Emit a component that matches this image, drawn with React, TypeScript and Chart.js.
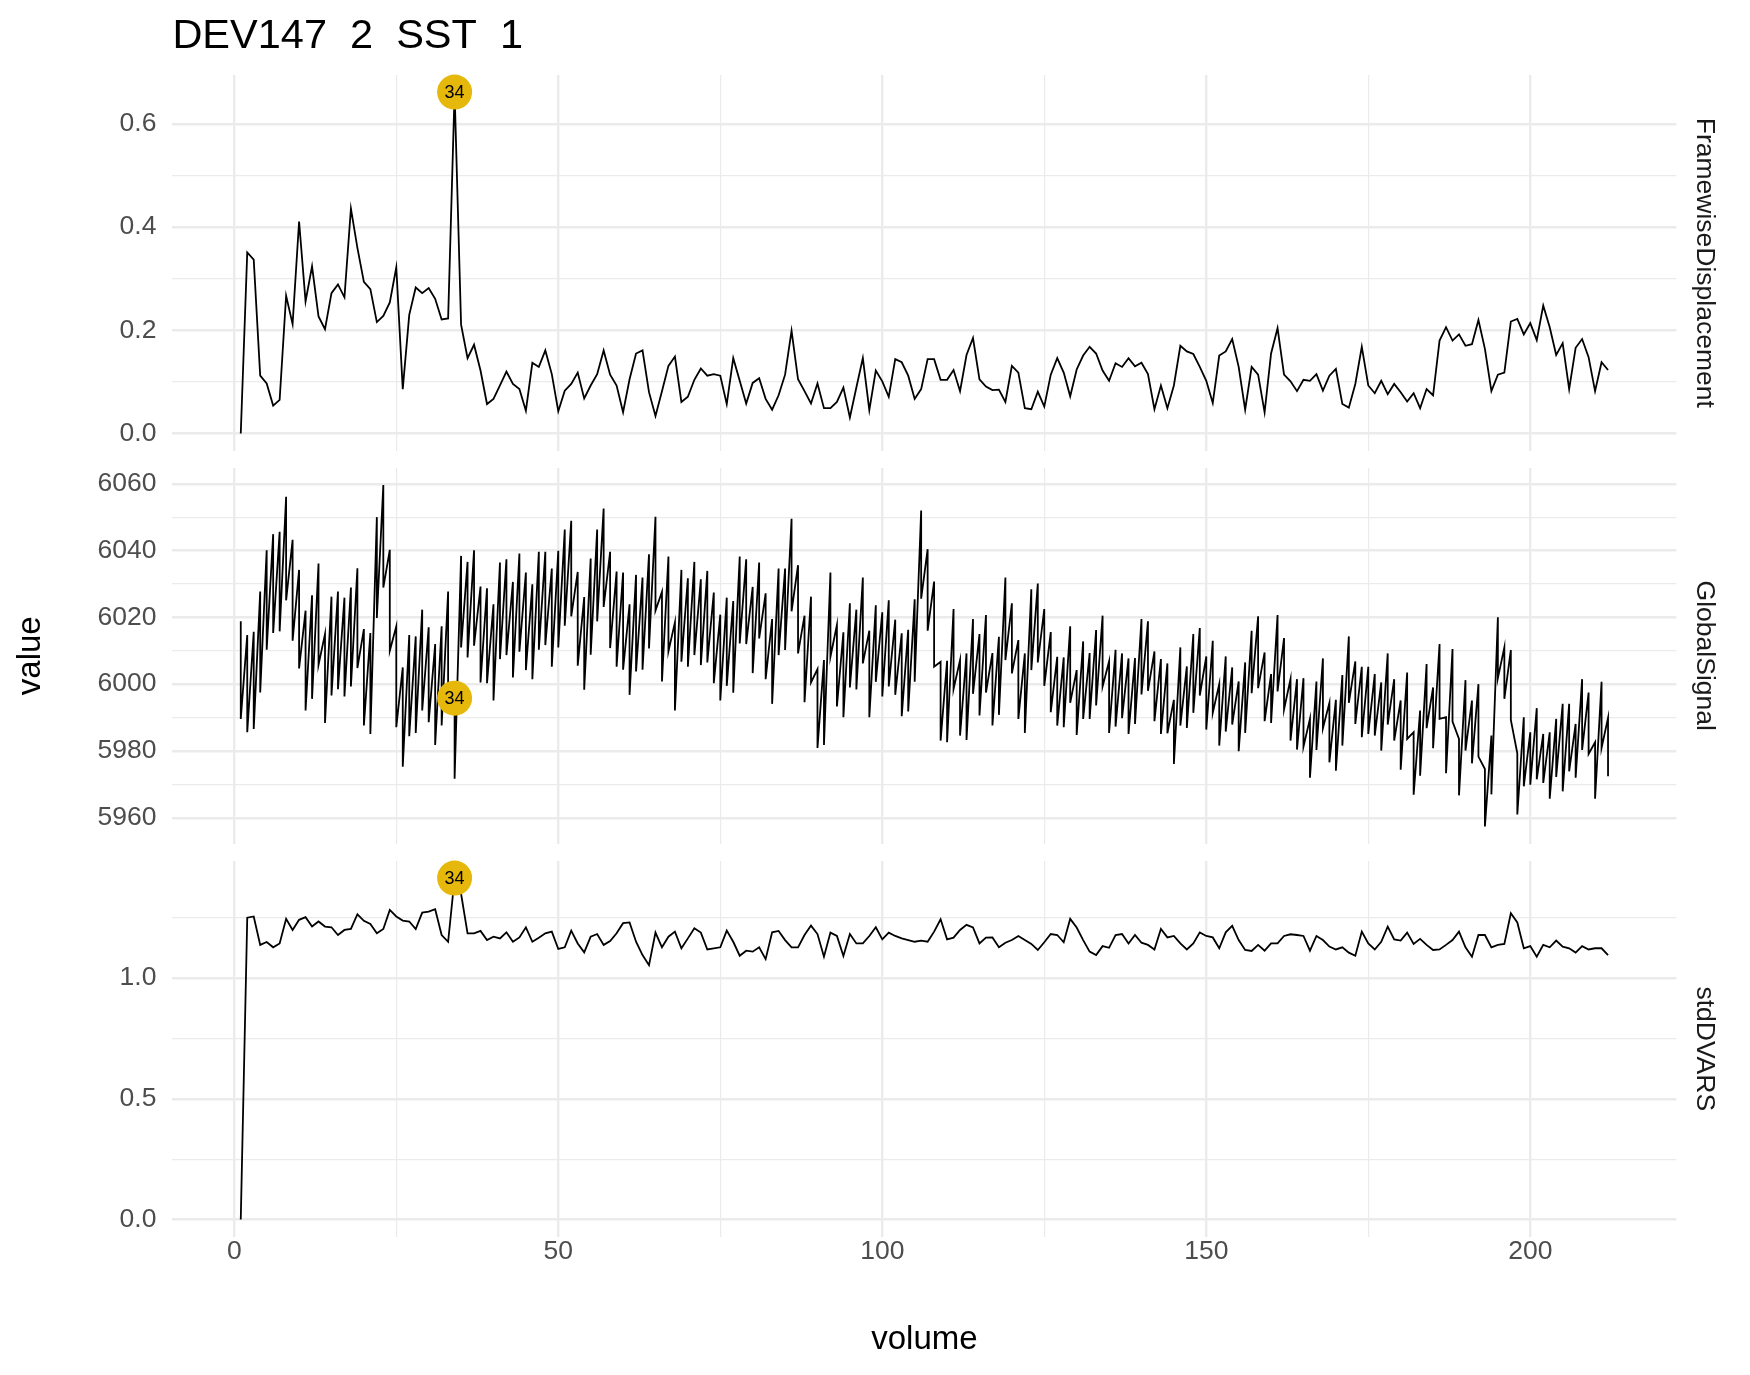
import React, { useEffect, useRef } from 'react';
import { Chart, registerables } from 'chart.js';

Chart.register(...registerables);

// ---------------- data ----------------
const TITLE = 'DEV147  2  SST  1';
const PANEL_NAMES = ['FramewiseDisplacement', 'GlobalSignal', 'stdDVARS'];
const X_TITLE = 'volume';
const Y_TITLE = 'value';
const FLAG_VOLUME = 34;

const FD = [
  0.000, 0.351, 0.337, 0.112, 0.097, 0.054, 0.065, 0.267, 0.212, 0.411,
  0.256, 0.324, 0.227, 0.202, 0.272, 0.289, 0.264, 0.436, 0.360, 0.294,
  0.280, 0.216, 0.228, 0.254, 0.322, 0.086, 0.230, 0.283, 0.272, 0.282,
  0.261, 0.221, 0.223, 0.662, 0.211, 0.146, 0.172, 0.122, 0.057, 0.067,
  0.093, 0.120, 0.096, 0.086, 0.044, 0.137, 0.129, 0.161, 0.115, 0.043,
  0.083, 0.096, 0.118, 0.068, 0.093, 0.115, 0.161, 0.114, 0.093, 0.041,
  0.105, 0.155, 0.161, 0.080, 0.034, 0.082, 0.131, 0.149, 0.061, 0.071,
  0.104, 0.126, 0.112, 0.115, 0.112, 0.057, 0.146, 0.102, 0.058, 0.098,
  0.107, 0.067, 0.046, 0.074, 0.114, 0.199, 0.105, 0.082, 0.058, 0.097,
  0.049, 0.049, 0.061, 0.089, 0.031, 0.089, 0.146, 0.045, 0.122, 0.101,
  0.071, 0.144, 0.138, 0.112, 0.067, 0.086, 0.144, 0.144, 0.104, 0.104,
  0.123, 0.082, 0.152, 0.185, 0.105, 0.091, 0.084, 0.085, 0.061, 0.131,
  0.118, 0.049, 0.047, 0.081, 0.052, 0.114, 0.146, 0.118, 0.072, 0.124,
  0.151, 0.168, 0.155, 0.122, 0.102, 0.136, 0.129, 0.146, 0.130, 0.137,
  0.115, 0.047, 0.093, 0.049, 0.093, 0.170, 0.159, 0.154, 0.129, 0.102,
  0.059, 0.151, 0.159, 0.183, 0.129, 0.046, 0.129, 0.114, 0.041, 0.155,
  0.204, 0.114, 0.101, 0.082, 0.104, 0.102, 0.115, 0.083, 0.112, 0.125,
  0.057, 0.050, 0.096, 0.168, 0.093, 0.078, 0.102, 0.076, 0.096, 0.080,
  0.062, 0.078, 0.049, 0.086, 0.074, 0.180, 0.206, 0.180, 0.192, 0.170,
  0.173, 0.220, 0.164, 0.082, 0.114, 0.118, 0.217, 0.222, 0.192, 0.214,
  0.181, 0.248, 0.206, 0.152, 0.175, 0.086, 0.166, 0.183, 0.148, 0.082,
  0.138, 0.123,
];

// GlobalSignal has two rows per volume (first row, then second row)
const GS_FIRST = [
  6018.8, 6014.7, 6015.7, 6027.7, 6040.1, 6044.9, 6045.6, 6056.1, 6043.2, 6034.2,
  6022.0, 6026.6, 6036.1, 6015.0, 6026.2, 6027.7, 6025.9, 6028.9, 6034.7, 6016.5,
  6015.3, 6050.0, 6059.6, 6040.2, 6017.3, 6005.0, 6014.7, 6014.3, 6022.3, 6017.0,
  6012.0, 6017.3, 6027.7, 5995.8, 6038.4, 6036.6, 6040.1, 6029.2, 6028.7, 6023.9,
  6036.4, 6037.4, 6030.6, 6039.1, 6033.4, 6029.9, 6039.6, 6039.6, 6034.6, 6039.9,
  6046.3, 6048.9, 6033.6, 6026.1, 6037.6, 6046.3, 6052.6, 6039.6, 6033.7, 6033.4,
  6023.9, 6032.7, 6031.9, 6038.9, 6050.1, 6027.6, 6038.2, 6018.5, 6034.2, 6031.7,
  6036.6, 6031.4, 6033.9, 6027.4, 6020.8, 6025.9, 6024.9, 6038.2, 6037.4, 6029.1,
  6036.4, 6027.2, 6019.5, 6034.6, 6034.6, 6049.5, 6035.6, 6020.5, 6026.2, 6004.5,
  6007.2, 6033.4, 6017.7, 6015.5, 6024.2, 6022.3, 6031.9, 6016.0, 6023.6, 6021.5,
  6025.1, 6019.3, 6015.2, 6016.3, 6025.4, 6052.0, 6040.4, 6030.7, 6006.7, 6007.0,
  6022.5, 6007.2, 6009.2, 6019.5, 6015.0, 6020.7, 6009.3, 6014.2, 6031.9, 6024.2,
  6013.2, 6009.2, 6028.4, 6030.1, 6022.5, 6015.6, 6008.2, 6008.0, 6017.3, 6004.2,
  6012.8, 6009.3, 6016.2, 6020.5, 6006.8, 6010.3, 6009.2, 6007.7, 6007.8, 6019.5,
  6018.8, 6009.8, 6007.5, 6006.2, 5995.3, 6011.0, 6005.3, 6015.0, 6016.8, 6008.3,
  6013.0, 6000.0, 6008.3, 6005.0, 6000.8, 6006.5, 6016.0, 6020.3, 6009.5, 6003.0,
  6020.7, 6013.8, 6001.5, 6001.5, 6001.8, 5989.6, 6000.8, 6007.7, 5994.4, 5995.3,
  6002.7, 6014.3, 6006.8, 6005.2, 6005.2, 6003.0, 6000.5, 6009.2, 6001.5, 5995.1,
  6003.5, 5985.6, 5992.1, 6006.0, 5999.0, 6012.0, 5990.1, 6010.5, 5983.6, 6001.2,
  5995.1, 6000.0, 5974.6, 5984.6, 6020.0, 6011.0, 6010.2, 5979.3, 5990.1, 5985.6,
  5992.8, 5985.1, 5985.6, 5989.6, 5994.1, 5994.1, 5988.1, 6001.5, 5997.5, 5982.6,
  6000.7, 5989.9,
];

const GS_SECOND = [
  5989.6, 5985.6, 5986.6, 5997.5, 6010.3, 6015.3, 6015.8, 6025.1, 6013.0, 6004.7,
  5992.1, 5995.6, 6005.8, 5988.4, 5996.6, 5998.5, 5996.3, 5999.3, 6004.8, 5987.6,
  5985.1, 6019.8, 6028.9, 6010.0, 5987.1, 5975.3, 5984.4, 5985.4, 5992.1, 5988.6,
  5981.8, 5987.6, 5998.0, 5971.7, 6011.0, 6008.0, 6011.5, 6000.5, 6000.3, 5995.1,
  6007.5, 6008.7, 6002.0, 6009.7, 6004.2, 6001.5, 6010.3, 6011.7, 6005.2, 6011.0,
  6017.5, 6020.3, 6005.5, 5998.3, 6008.8, 6018.8, 6023.1, 6010.8, 6005.2, 6004.3,
  5996.8, 6003.8, 6004.3, 6010.7, 6022.0, 6000.8, 6009.8, 5992.1, 6006.7, 6005.2,
  6008.7, 6005.7, 6006.5, 6000.3, 5995.1, 5999.5, 5997.4, 6012.2, 6012.0, 6003.3,
  6013.7, 6001.5, 5994.1, 6008.7, 6010.2, 6021.8, 6009.2, 5994.6, 6000.5, 5980.9,
  5981.8, 6008.2, 5993.3, 5990.1, 5999.0, 5998.4, 6006.2, 5990.1, 6000.7, 5996.3,
  5999.3, 5996.8, 5990.4, 5991.8, 6000.7, 6025.6, 6016.0, 6005.2, 5983.1, 5982.6,
  5998.5, 5984.6, 5983.3, 5997.1, 5990.6, 5997.5, 5987.6, 5990.8, 6007.2, 6003.2,
  5989.6, 5985.4, 6004.2, 6006.5, 5999.5, 5991.6, 5987.6, 5987.1, 5994.4, 5984.8,
  5989.6, 5989.6, 5993.6, 5999.3, 5985.4, 5987.3, 5989.8, 5985.1, 5988.1, 5996.9,
  5998.0, 5988.9, 5985.1, 5985.3, 5976.1, 5987.6, 5986.9, 5991.4, 5996.6, 5986.4,
  5991.4, 5981.6, 5985.8, 5987.9, 5979.9, 5985.4, 5997.3, 5998.8, 5988.9, 5988.4,
  5997.8, 5992.4, 5983.1, 5980.4, 5981.3, 5972.0, 5980.3, 5986.8, 5976.6, 5974.1,
  5981.6, 5994.4, 5988.1, 5984.1, 5985.1, 5984.6, 5980.1, 5987.9, 5983.1, 5974.4,
  5983.6, 5966.9, 5972.6, 5986.8, 5980.8, 5989.6, 5973.3, 5988.8, 5966.7, 5980.1,
  5976.3, 5978.3, 5957.4, 5967.0, 6001.8, 5995.6, 5989.3, 5961.0, 5969.4, 5969.9,
  5971.5, 5970.4, 5965.7, 5972.2, 5967.9, 5973.9, 5972.0, 5980.3, 5979.1, 5965.7,
  5980.9, 5972.4,
];

const DVARS = [
  0.000, 1.251, 1.256, 1.138, 1.150, 1.128, 1.144, 1.246, 1.200, 1.242,
  1.253, 1.214, 1.235, 1.214, 1.211, 1.179, 1.200, 1.204, 1.265, 1.238,
  1.225, 1.186, 1.204, 1.283, 1.256, 1.239, 1.235, 1.204, 1.272, 1.276,
  1.286, 1.179, 1.151, 1.415, 1.350, 1.186, 1.186, 1.196, 1.158, 1.172,
  1.165, 1.190, 1.151, 1.169, 1.211, 1.151, 1.168, 1.186, 1.193, 1.121,
  1.128, 1.197, 1.144, 1.107, 1.172, 1.183, 1.138, 1.154, 1.186, 1.228,
  1.231, 1.151, 1.096, 1.054, 1.189, 1.128, 1.172, 1.193, 1.124, 1.165,
  1.207, 1.189, 1.119, 1.124, 1.128, 1.197, 1.151, 1.093, 1.114, 1.110,
  1.128, 1.079, 1.190, 1.196, 1.158, 1.128, 1.128, 1.179, 1.218, 1.183,
  1.089, 1.189, 1.175, 1.092, 1.183, 1.144, 1.144, 1.175, 1.211, 1.161,
  1.189, 1.175, 1.165, 1.158, 1.151, 1.156, 1.151, 1.193, 1.244, 1.161,
  1.168, 1.200, 1.221, 1.210, 1.144, 1.168, 1.169, 1.128, 1.147, 1.158,
  1.175, 1.158, 1.142, 1.117, 1.149, 1.183, 1.179, 1.149, 1.246, 1.210,
  1.158, 1.110, 1.096, 1.133, 1.126, 1.179, 1.183, 1.144, 1.179, 1.147,
  1.138, 1.119, 1.204, 1.169, 1.175, 1.144, 1.119, 1.144, 1.190, 1.175,
  1.169, 1.124, 1.190, 1.217, 1.158, 1.117, 1.113, 1.138, 1.114, 1.144,
  1.144, 1.175, 1.182, 1.179, 1.175, 1.114, 1.175, 1.158, 1.131, 1.119,
  1.128, 1.106, 1.093, 1.193, 1.144, 1.119, 1.151, 1.214, 1.161, 1.156,
  1.189, 1.142, 1.163, 1.138, 1.117, 1.119, 1.138, 1.158, 1.193, 1.128,
  1.089, 1.179, 1.179, 1.128, 1.138, 1.142, 1.269, 1.231, 1.124, 1.133,
  1.089, 1.138, 1.128, 1.156, 1.131, 1.124, 1.106, 1.133, 1.119, 1.124,
  1.124, 1.096,
];

const VOLUMES = FD.map((_, i) => i + 1);

const X_MAJOR = [0, 50, 100, 150, 200];
const X_MINOR = [25, 75, 125, 175];
const FD_MAJOR = [0, 0.2, 0.4, 0.6];
const FD_MINOR = [0.1, 0.3, 0.5];
const GS_MAJOR = [5960, 5980, 6000, 6020, 6040, 6060];
const GS_MINOR = [5970, 5990, 6010, 6030, 6050];
const DV_MAJOR = [0, 0.5, 1.0];
const DV_MINOR = [0.25, 0.75, 1.25];

// ---------------- layout ----------------
const W = 1750;
const H = 1375;
const PLOT_LEFT = 172.4;
const PLOT_RIGHT = 1676.4;
const PANEL_TOPS = [75, 468, 861];
const PANEL_H = 375.5;
const X_AXIS_H = 60;
const FONT = '"Liberation Sans", Arial, Helvetica, sans-serif';
const GRID = '#EBEBEB';
const FLAG_FILL = '#E5B80B';

const expand = (vals: number[]) => {
  const lo = Math.min(...vals);
  const hi = Math.max(...vals);
  const d = (hi - lo) * 0.05;
  return [lo - d, hi + d];
};

type PanelSpec = {
  name: string;
  points: { x: number; y: number }[];
  major: number[];
  minor: number[];
  fmt: (v: number) => string;
  flagY: number;
};

function buildPanels(): PanelSpec[] {
  const fdPts = VOLUMES.map((v, i) => ({ x: v, y: FD[i] }));
  const gsPts: { x: number; y: number }[] = [];
  VOLUMES.forEach((v, i) => {
    gsPts.push({ x: v, y: GS_FIRST[i] });
    gsPts.push({ x: v, y: GS_SECOND[i] });
  });
  const dvPts = VOLUMES.map((v, i) => ({ x: v, y: DVARS[i] }));
  const fi = VOLUMES.indexOf(FLAG_VOLUME);
  return [
    { name: PANEL_NAMES[0], points: fdPts, major: FD_MAJOR, minor: FD_MINOR, fmt: (v) => v.toFixed(1), flagY: FD[fi] },
    { name: PANEL_NAMES[1], points: gsPts, major: GS_MAJOR, minor: GS_MINOR, fmt: (v) => String(Math.round(v)), flagY: GS_FIRST[fi] },
    { name: PANEL_NAMES[2], points: dvPts, major: DV_MAJOR, minor: DV_MINOR, fmt: (v) => v.toFixed(1), flagY: DVARS[fi] },
  ];
}

function makeConfig(p: PanelSpec, idx: number): any {
  const isBottom = idx === 2;
  const top = PANEL_TOPS[idx];
  const [xmin, xmax] = expand(VOLUMES);
  const [ymin, ymax] = expand(p.points.map((d) => d.y));
  const xTicks = [...X_MAJOR, ...X_MINOR].sort((a, b) => a - b);
  const yTicks = [...p.major, ...p.minor].sort((a, b) => a - b);
  const isMajor = (arr: number[], v: number) => arr.some((m) => Math.abs(m - v) < 1e-9);

  const overlay = {
    id: 'overlay' + idx,
    afterDatasetsDraw(chart: any) {
      const ctx = chart.ctx;
      const xs = chart.scales.x;
      const ys = chart.scales.y;
      const cx = xs.getPixelForValue(FLAG_VOLUME);
      const cy = ys.getPixelForValue(p.flagY);
      ctx.save();
      ctx.beginPath();
      ctx.arc(cx, cy, 17.5, 0, Math.PI * 2);
      ctx.fillStyle = FLAG_FILL;
      ctx.fill();
      ctx.fillStyle = '#000';
      ctx.font = `18px ${FONT}`;
      ctx.textAlign = 'center';
      ctx.textBaseline = 'middle';
      ctx.fillText(String(FLAG_VOLUME), cx, cy + 1);
      ctx.restore();
    },
    afterDraw(chart: any) {
      const ctx = chart.ctx;
      const area = chart.chartArea;
      ctx.save();
      ctx.translate(1704, (area.top + area.bottom) / 2);
      ctx.rotate(Math.PI / 2);
      ctx.fillStyle = '#1A1A1A';
      ctx.font = `26.5px ${FONT}`;
      ctx.textAlign = 'center';
      ctx.textBaseline = 'middle';
      ctx.fillText(p.name, 0, 0);
      ctx.restore();
      if (idx === 0) {
        ctx.save();
        ctx.fillStyle = '#000';
        ctx.font = `41.5px ${FONT}`;
        ctx.textAlign = 'left';
        ctx.textBaseline = 'alphabetic';
        ctx.fillText(TITLE, PLOT_LEFT, 48);
        ctx.restore();
      }
      if (isBottom) {
        ctx.save();
        ctx.fillStyle = '#000';
        ctx.font = `33px ${FONT}`;
        ctx.textAlign = 'center';
        ctx.textBaseline = 'middle';
        ctx.fillText(X_TITLE, (PLOT_LEFT + PLOT_RIGHT) / 2, 1340);
        ctx.translate(31, (PANEL_TOPS[0] + PANEL_TOPS[2] + PANEL_H) / 2);
        ctx.rotate(-Math.PI / 2);
        ctx.fillText(Y_TITLE, 0, 0);
        ctx.restore();
      }
    },
  };

  return {
    type: 'line',
    data: {
      datasets: [
        {
          data: p.points,
          borderColor: '#000000',
          borderWidth: 1.8,
          pointRadius: 0,
          tension: 0,
          fill: false,
        },
      ],
    },
    options: {
      responsive: false,
      animation: false,
      events: [],
      layout: {
        padding: {
          left: 0,
          right: W - PLOT_RIGHT,
          top: top,
          bottom: H - (top + PANEL_H) - (isBottom ? X_AXIS_H : 0),
        },
      },
      plugins: {
        legend: { display: false },
        tooltip: { enabled: false },
        title: { display: false },
      },
      scales: {
        x: {
          type: 'linear',
          min: xmin,
          max: xmax,
          afterBuildTicks: (s: any) => {
            s.ticks = xTicks.map((v) => ({ value: v }));
          },
          afterFit: (s: any) => {
            s.height = isBottom ? X_AXIS_H : 0;
          },
          border: { display: false },
          grid: {
            color: GRID,
            drawTicks: false,
            lineWidth: (c: any) => (c.tick && isMajor(X_MAJOR, c.tick.value) ? 2.4 : 1.2),
          },
          ticks: {
            display: isBottom,
            autoSkip: false,
            maxRotation: 0,
            padding: -1,
            color: '#4D4D4D',
            font: { family: FONT, size: 26.5 },
            callback: (v: number) => (isMajor(X_MAJOR, v) ? String(v) : ''),
          },
        },
        y: {
          type: 'linear',
          min: ymin,
          max: ymax,
          afterBuildTicks: (s: any) => {
            s.ticks = yTicks.map((v) => ({ value: v }));
          },
          afterFit: (s: any) => {
            s.width = PLOT_LEFT;
          },
          border: { display: false },
          grid: {
            color: GRID,
            drawTicks: false,
            lineWidth: (c: any) => (c.tick && isMajor(p.major, c.tick.value) ? 2.4 : 1.2),
          },
          ticks: {
            autoSkip: false,
            padding: 16,
            color: '#4D4D4D',
            font: { family: FONT, size: 26.5 },
            callback: (v: number) => (isMajor(p.major, v) ? p.fmt(v) : ''),
          },
        },
      },
    },
    plugins: [overlay],
  };
}

export default function App() {
  const r0 = useRef<HTMLCanvasElement>(null);
  const r1 = useRef<HTMLCanvasElement>(null);
  const r2 = useRef<HTMLCanvasElement>(null);

  useEffect(() => {
    const panels = buildPanels();
    const refs = [r0, r1, r2];
    const charts: Chart[] = [];
    refs.forEach((r, i) => {
      if (r.current) charts.push(new Chart(r.current, makeConfig(panels[i], i)));
    });
    return () => charts.forEach((c) => c.destroy());
  }, []);

  const cs: React.CSSProperties = { position: 'absolute', left: 0, top: 0, width: W, height: H };
  return (
    <div style={{ position: 'absolute', left: 0, top: 0, width: W, height: H, background: '#fff', overflow: 'hidden' }}>
      <canvas ref={r0} width={W} height={H} style={cs} />
      <canvas ref={r1} width={W} height={H} style={cs} />
      <canvas ref={r2} width={W} height={H} style={cs} />
    </div>
  );
}
